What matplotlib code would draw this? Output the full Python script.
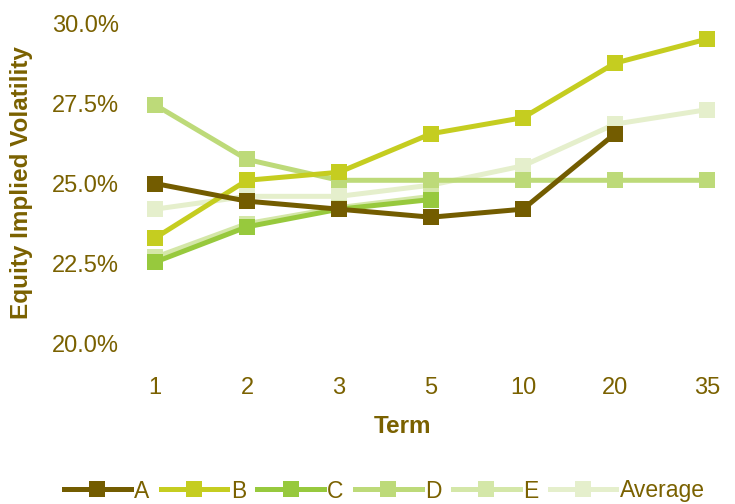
import matplotlib
matplotlib.use("Agg")
import matplotlib.pyplot as plt
from matplotlib.ticker import FuncFormatter

terms = ["1", "2", "3", "5", "10", "20", "35"]
series_names = ["A", "B", "C", "D", "E", "Average"]
vol_a = [25.0, 24.45, 24.2, 23.95, 24.2, 26.55, None]
vol_b = [23.3, 25.1, 25.35, 26.55, 27.05, 28.75, 29.5]
vol_c = [22.55, 23.65, 24.2, 24.5, None, None, None]
vol_d = [27.45, 25.75, 25.1, 25.1, 25.1, 25.1, 25.1]
vol_e = [22.7, 23.75, 24.25, 24.6, None, None, None]
vol_avg = [24.2, 24.6, 24.6, 24.95, 25.55, 26.85, 27.3]
colors = ["#735c00", "#c5cd20", "#97c93d", "#bdda79", "#d4e7a8", "#e5efcc"]
text_col = "#7a6100"

plt.rcParams["font.family"] = ["Liberation Sans", "DejaVu Sans"]

fig = plt.figure(figsize=(7.35, 5.04), dpi=100)
ax = fig.add_axes([130 / 735, 1 - 360 / 504, 600 / 735, 345 / 504])

all_vals = [vol_a, vol_b, vol_c, vol_d, vol_e, vol_avg]
x = list(range(len(terms)))
lines = []
for i, (name, vals, c) in enumerate(zip(series_names, all_vals, colors)):
    xs = [xi for xi, v in zip(x, vals) if v is not None]
    ys = [v for v in vals if v is not None]
    ln, = ax.plot(xs, ys, color=c, lw=3.6, marker="s", ms=11,
                  markeredgewidth=0, label=name, zorder=10 - i)
    lines.append(ln)

ax.set_xlim(-25 / 92, 6 + 23 / 92)
ax.set_ylim(20 - 16 / 32.1, 30 + 8 / 32.1)
ax.set_xticks(x)
ax.set_xticklabels(terms)
ax.set_yticks([20, 22.5, 25, 27.5, 30])
ax.yaxis.set_major_formatter(FuncFormatter(lambda v, p: f"{v:.1f}%"))
for s in ax.spines.values():
    s.set_visible(False)
ax.tick_params(length=0, labelsize=17, colors=text_col)
ax.tick_params(axis="y", pad=8)
ax.tick_params(axis="x", pad=12)

ax.set_xlabel("Term", fontsize=17.5, fontweight="bold", color=text_col)
ax.xaxis.set_label_coords(0.455, -0.16)
ax.set_ylabel("Equity Implied Volatility", fontsize=17.5, fontweight="bold",
              color=text_col)
ax.yaxis.set_label_coords(-0.162, 0.513)

leg = fig.legend(handles=lines, loc="center", bbox_to_anchor=(0.523, 1 - 491 / 504),
                 ncol=6, frameon=False, fontsize=16.5, handlelength=2.9,
                 handletextpad=0.15, columnspacing=0.5, borderaxespad=0)
for t in leg.get_texts():
    t.set_color(text_col)

fig.savefig("out.png", dpi=100)
